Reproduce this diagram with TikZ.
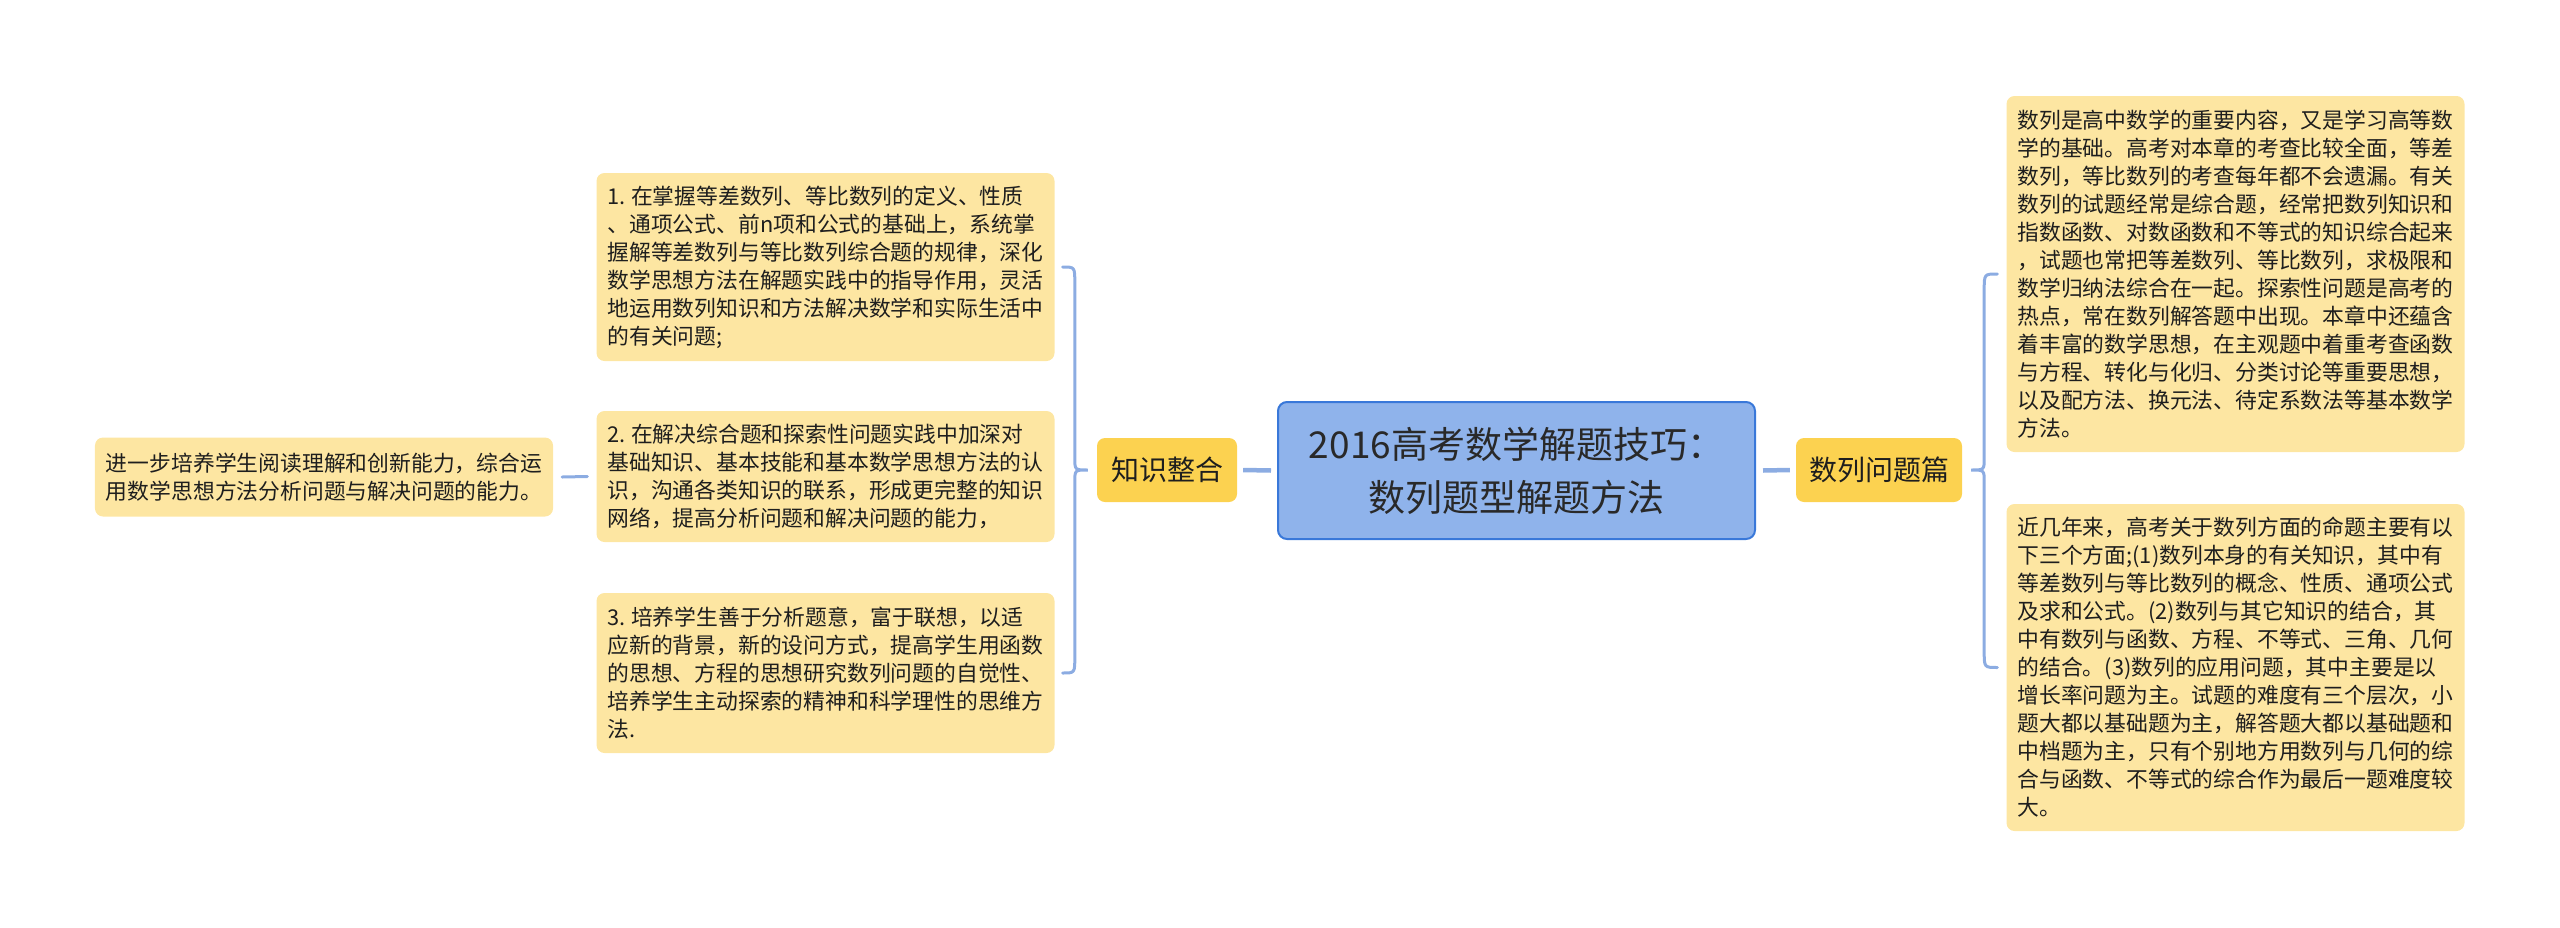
\documentclass[tikz,border=0pt]{standalone}
\usepackage{fontspec}
\setmainfont{Noto Sans CJK SC}
\usetikzlibrary{calc}
\definecolor{leaffill}{RGB}{253,230,162}
\definecolor{midfill}{RGB}{252,210,80}
\definecolor{rootfill}{RGB}{143,179,235}
\definecolor{rootdraw}{RGB}{57,120,217}
\definecolor{linkcol}{RGB}{140,172,226}
\definecolor{txt}{RGB}{30,30,30}
\newcommand{\numsp}{\hspace{0.25em}}
\tikzset{
  leafbox/.style={fill=leaffill, rounded corners=8bp, text=txt, align=left,
    text width=436bp, inner xsep=11bp, inner ysep=0bp,
    font=\fontsize{21.8bp}{28bp}\selectfont},
  midbox/.style={fill=midfill, rounded corners=8bp, text=txt, align=center,
    inner sep=0bp, font=\fontsize{28bp}{34bp}\selectfont},
  rootbox/.style={fill=rootfill, draw=rootdraw, line width=2bp, rounded corners=9bp,
    text=txt!95!white, align=center, inner sep=0bp,
    font=\fontsize{37bp}{53bp}\selectfont},
  conn/.style={draw=linkcol, line width=3bp, line cap=round},
  thickconn/.style={draw=linkcol, line width=4.5bp}
}
\begin{document}
\begin{tikzpicture}[x=1bp,y=-1bp]
\useasboundingbox (0,0) rectangle (2560,927);
% root
\node[rootbox, minimum width=477bp, minimum height=137bp] (root) at (1516.5,470.5)
  {2016高考数学解题技巧：\\数列题型解题方法};
% mid level
\node[midbox, minimum width=140bp, minimum height=64bp] (K) at (1167,470) {知识整合};
\node[midbox, minimum width=166bp, minimum height=64bp] (S) at (1879,470) {数列问题篇};
% left leaves
\node[leafbox, minimum height=188bp] (L1) at (825.5,267) {1.\numsp{}在掌握等差数列、等比数列的定义、性质\\、通项公式、前n项和公式的基础上，系统掌\\握解等差数列与等比数列综合题的规律，深化\\数学思想方法在解题实践中的指导作用，灵活\\地运用数列知识和方法解决数学和实际生活中\\的有关问题;};
\node[leafbox, minimum height=131bp] (L2) at (825.5,476.5) {2.\numsp{}在解决综合题和探索性问题实践中加深对\\基础知识、基本技能和基本数学思想方法的认\\识，沟通各类知识的联系，形成更完整的知识\\网络，提高分析问题和解决问题的能力，};
\node[leafbox, minimum height=160bp] (L3) at (825.5,673) {3.\numsp{}培养学生善于分析题意，富于联想，以适\\应新的背景，新的设问方式，提高学生用函数\\的思想、方程的思想研究数列问题的自觉性、\\培养学生主动探索的精神和科学理性的思维方\\法.};
\node[leafbox, minimum height=79bp] (FL) at (324,477) {进一步培养学生阅读理解和创新能力，综合运\\用数学思想方法分析问题与解决问题的能力。};
% right leaves
\node[leafbox, minimum height=356bp] (R1) at (2235.5,274) {数列是高中数学的重要内容，又是学习高等数\\学的基础。高考对本章的考查比较全面，等差\\数列，等比数列的考查每年都不会遗漏。有关\\数列的试题经常是综合题，经常把数列知识和\\指数函数、对数函数和不等式的知识综合起来\\，试题也常把等差数列、等比数列，求极限和\\数学归纳法综合在一起。探索性问题是高考的\\热点，常在数列解答题中出现。本章中还蕴含\\着丰富的数学思想，在主观题中着重考查函数\\与方程、转化与化归、分类讨论等重要思想，\\以及配方法、换元法、待定系数法等基本数学\\方法。};
\node[leafbox, minimum height=327bp] (R2) at (2235.5,667.5) {近几年来，高考关于数列方面的命题主要有以\\下三个方面;(1)数列本身的有关知识，其中有\\等差数列与等比数列的概念、性质、通项公式\\及求和公式。(2)数列与其它知识的结合，其\\中有数列与函数、方程、不等式、三角、几何\\的结合。(3)数列的应用问题，其中主要是以\\增长率问题为主。试题的难度有三个层次，小\\题大都以基础题为主，解答题大都以基础题和\\中档题为主，只有个别地方用数列与几何的综\\合与函数、不等式的综合作为最后一题难度较\\大。};
% root to mid
\draw[thickconn] ([xshift=-6bp]root.west) -- ([xshift=6bp]K.east);
\draw[thickconn] ([xshift=7bp]root.east) -- ([xshift=-6bp]S.west);
% left brace
\coordinate (kp) at ([xshift=-9bp]K.west);
\coordinate (kx) at ([xshift=-22bp]K.west);
\draw[conn] ([xshift=8bp]L1.east) .. controls (kx|-L1.east) .. ($(kx|-L1.east)+(0,16)$)
  -- ($(kx|-kp)+(0,-12)$) .. controls (kx|-kp) .. (kp)
  .. controls (kx|-kp) .. ($(kx|-kp)+(0,12)$)
  -- ($(kx|-L3.east)+(0,-16)$) .. controls (kx|-L3.east) .. ([xshift=8bp]L3.east);
% right brace
\coordinate (sp) at ([xshift=9bp]S.east);
\coordinate (sx) at ([xshift=22bp]S.east);
\draw[conn] ([xshift=-9bp]R1.west) .. controls (sx|-R1.west) .. ($(sx|-R1.west)+(0,16)$)
  -- ($(sx|-sp)+(0,-12)$) .. controls (sx|-sp) .. (sp)
  .. controls (sx|-sp) .. ($(sx|-sp)+(0,12)$)
  -- ($(sx|-R2.west)+(0,-16)$) .. controls (sx|-R2.west) .. ([xshift=-9bp]R2.west);
% far left
\draw[conn] ([xshift=-9bp]L2.west) -- ([xshift=9bp]FL.east);
\end{tikzpicture}
\end{document}
